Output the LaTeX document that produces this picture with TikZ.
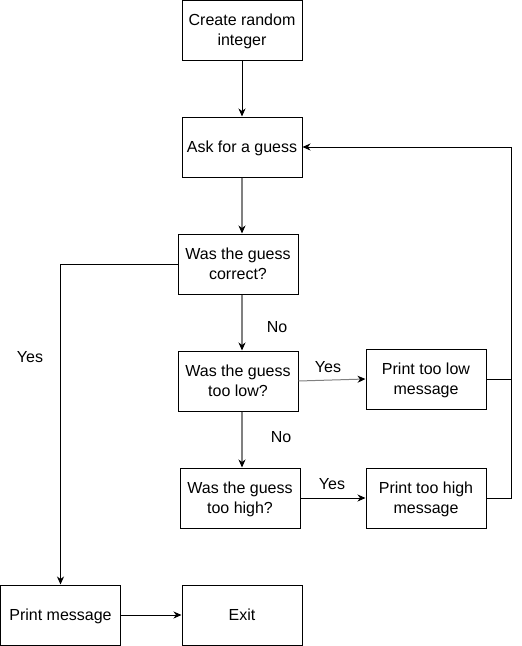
\documentclass[tikz,border=0pt]{standalone}
\usepackage{fontspec}
\setmainfont{Liberation Sans}
\usetikzlibrary{arrows.meta}
\definecolor{lgray}{RGB}{128,128,128}
\begin{document}
\begin{tikzpicture}[x=1pt,y=-1pt,
  box/.style={draw, line width=1pt, minimum width=120pt, minimum height=60pt,
    align=center, inner sep=0pt, text depth=0pt, font=\fontsize{16pt}{20pt}\selectfont},
  lbl/.style={font=\fontsize{16pt}{20pt}\selectfont, inner sep=0pt},
  tip/.style={-{Stealth[length=8pt,width=7pt,inset=2.5pt,color=black]}},
  arr/.style={draw, line width=1pt, tip},
  garr/.style={draw=lgray, line width=1.2pt, tip},
  plain/.style={draw, line width=1pt}]
\useasboundingbox (0,0) rectangle (522,646);
\node[box] (create) at (242,30) {Create random\\integer};
\node[box] (ask) at (242,147) {Ask for a guess};
\node[box] (correct) at (238,264) {Was the guess\\correct?};
\node[box] (low) at (238,381) {Was the guess\\too low?};
\node[box] (high) at (240,498) {Was the guess\\too high?};
\node[box] (plow) at (426,379) {Print too low\\message};
\node[box] (phigh) at (426,498) {Print too high\\message};
\node[box] (pmsg) at (60.5,615) {Print message};
\node[box] (exit) at (242,615) {Exit};
\coordinate (r) at (511,0);
\draw[arr] (create) -- (ask);
\draw[garr] (ask.south) -- (ask.south |- correct.north);
\draw[garr] (correct.south -| ask.south) -- (low.north -| ask.south);
\draw[garr] (low.south -| ask.south) -- (high.north -| ask.south);
\draw[garr, line width=1pt] (low.east) -- (plow.west);
\draw[arr] (high.east) -- (phigh.west);
\draw[arr] (correct.west) -| (pmsg.north);
\draw[arr] (pmsg) -- (exit);
\draw[arr] (plow.east) -- (plow.east -| r) -- (r |- ask.east) -- (ask.east);
\draw[plain] (phigh.east) -- (phigh.east -| r) -- (r |- plow.east);
\node[lbl] (no1) at (277,327) {No};
\node[lbl] (no2) at (281,437) {No};
\node[lbl] (yes0) at (30,357) {Yes};
\node[lbl] (yes1) at (328,367) {Yes};
\node[lbl] (yes2) at (332,484) {Yes};
\end{tikzpicture}
\end{document}
